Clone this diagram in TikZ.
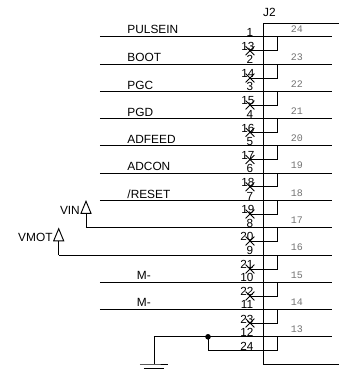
\documentclass[tikz,border=0pt]{standalone}
\usepackage{fontspec}
\setmainfont{Liberation Sans}
\newfontfamily\pinfont{Liberation Mono}
\usepackage{tikz}
\usetikzlibrary{positioning,shapes.misc,shapes.geometric,calc}

\begin{document}
\begin{tikzpicture}[x=0.75pt,y=-0.75pt,line width=0.7pt,
        netname/.style={font=\fontsize{8.9}{10}\selectfont,inner sep=0pt},
        pinnum/.style={font=\fontsize{8.8}{10}\selectfont,inner sep=0pt},
        contact/.style={font=\pinfont\fontsize{7.5}{8}\selectfont,text=black!55,inner sep=0pt},
        nc/.style={cross out,draw,minimum size=6pt,inner sep=0pt,line width=0.6pt},
        vcc/.style={isosceles triangle,isosceles triangle apex angle=45,shape border rotate=90,draw,fill=white,inner sep=0pt,minimum height=8.6pt,minimum width=7.5pt,line width=0.7pt}]
    \useasboundingbox (0,0) rectangle (339,369);
    % connector body
    \coordinate (top) at (339,23);
    \coordinate (bot) at (339,364);
    \draw (top) -- (263,23) -- (263,364) -- (bot);
    \node[netname] (j2) at (269.5,12) {J2};
    % rows
    \coordinate (l1) at (100,36.7);   \coordinate (r1) at (332,36.7);
    \coordinate (l2) at (100,64);     \coordinate (r2) at (332,64);
    \coordinate (l3) at (100,91.3);   \coordinate (r3) at (332,91.3);
    \coordinate (l4) at (100,118.5);  \coordinate (r4) at (332,118.5);
    \coordinate (l5) at (100,145.7);  \coordinate (r5) at (332,145.7);
    \coordinate (l6) at (100,173);    \coordinate (r6) at (332,173);
    \coordinate (l7) at (100,200.5);  \coordinate (r7) at (332,200.5);
    \coordinate (l8) at (86,227.7);   \coordinate (r8) at (332,227.7);
    \coordinate (l9) at (58.7,255);   \coordinate (r9) at (332,255);
    \coordinate (l10) at (100,282);   \coordinate (r10) at (332,282);
    \coordinate (l11) at (100,309.3); \coordinate (r11) at (332,309.3);
    \coordinate (l12) at (154,336.8); \coordinate (r12) at (332,336.8);
    \draw (l1) -- (r1);
    \draw (l2) -- (r2);
    \draw (l3) -- (r3);
    \draw (l4) -- (r4);
    \draw (l5) -- (r5);
    \draw (l6) -- (r6);
    \draw (l7) -- (r7);
    \draw (l8) -- (r8);
    \draw (l9) -- (r9);
    \draw (l10) -- (r10);
    \draw (l11) -- (r11);
    \draw (l12) -- (r12);
    % net names
    \node[netname,anchor=west] (pulsein) at (127,29.5) {PULSEIN};
    \node[netname,anchor=west] (boot) at (127,57.5) {BOOT};
    \node[netname,anchor=west] (pgc) at (127,85) {PGC};
    \node[netname,anchor=west] (pgd) at (127,112) {PGD};
    \node[netname,anchor=west] (adfeed) at (127,139.5) {ADFEED};
    \node[netname,anchor=west] (adcon) at (127,166.5) {ADCON};
    \node[netname,anchor=west] (reset) at (127,194) {/RESET};
    \node[netname,anchor=west] (m1) at (136.5,275.5) {M-};
    \node[netname,anchor=west] (m2) at (136.5,302.5) {M-};
    % power flags
    \node[vcc,anchor=apex] (vin) at (86,200) {};
    \node[vcc,anchor=apex] (vmot) at (58.7,227.5) {};
    \node[netname,left=1.2pt of vin] (vinname) {VIN};
    \node[netname,left=1.2pt of vmot] (vmotname) {VMOT};
    \draw (vin.south) -- (l8);
    \draw (vmot.south) -- (l9);
    % pin numbers on the wires
    \node[pinnum] (n1) at (250,32.5) {1};
    \node[pinnum] (n2) at (250,59.5) {2};
    \node[pinnum] (n3) at (250,86.8) {3};
    \node[pinnum] (n4) at (250,114) {4};
    \node[pinnum] (n5) at (250,141.2) {5};
    \node[pinnum] (n6) at (250,168.5) {6};
    \node[pinnum] (n7) at (250,196) {7};
    \node[pinnum] (n8) at (250,223.2) {8};
    \node[pinnum] (n9) at (250,250.5) {9};
    \node[pinnum] (n10) at (247,277.5) {10};
    \node[pinnum] (n11) at (247,304.8) {11};
    \node[pinnum] (n12) at (247,332.3) {12};
    % open pins
    \node[pinnum] (n13) at (248,46) {13};
    \node[pinnum] (n14) at (248,73.5) {14};
    \node[pinnum] (n15) at (248,100.5) {15};
    \node[pinnum] (n16) at (248,128) {16};
    \node[pinnum] (n17) at (248,155) {17};
    \node[pinnum] (n18) at (248,182.5) {18};
    \node[pinnum] (n19) at (248,209.8) {19};
    \node[pinnum] (n20) at (247,236.5) {20};
    \node[pinnum] (n21) at (247,264.5) {21};
    \node[pinnum] (n22) at (247,291.5) {22};
    \node[pinnum] (n23) at (247,319) {23};
    \node[pinnum] (n24) at (247,346) {24};
    \node[nc] (x13) at (250,50.7) {};
    \node[nc] (x14) at (250,78) {};
    \node[nc] (x15) at (250,105) {};
    \node[nc] (x16) at (250,132.3) {};
    \node[nc] (x17) at (250,159.5) {};
    \node[nc] (x18) at (250,186.8) {};
    \node[nc] (x19) at (250,214) {};
    \node[nc] (x20) at (250,241) {};
    \node[nc] (x21) at (250,269) {};
    \node[nc] (x22) at (250,296) {};
    \node[nc] (x23) at (250,323) {};
    % links between the two rows of a contact
    \draw (x13.center) -- (277,50.7) -- (277,36.7);
    \draw (x14.center) -- (277,78) -- (277,64);
    \draw (x15.center) -- (277,105) -- (277,91.3);
    \draw (x16.center) -- (277,132.3) -- (277,118.5);
    \draw (x17.center) -- (277,159.5) -- (277,145.7);
    \draw (x18.center) -- (277,186.8) -- (277,173);
    \draw (x19.center) -- (277,214) -- (277,200.5);
    \draw (x20.center) -- (277,241) -- (277,227.7);
    \draw (x21.center) -- (277,269) -- (277,255);
    \draw (x22.center) -- (277,296) -- (277,282);
    \draw (x23.center) -- (277,323) -- (277,309.3);
    % contact numbers
    \node[contact] (c24) at (297,29.3) {24};
    \node[contact] (c23) at (297,56.7) {23};
    \node[contact] (c22) at (297,84) {22};
    \node[contact] (c21) at (297,111.3) {21};
    \node[contact] (c20) at (297,138.3) {20};
    \node[contact] (c19) at (297,165.5) {19};
    \node[contact] (c18) at (297,193) {18};
    \node[contact] (c17) at (297,220.3) {17};
    \node[contact] (c16) at (297,247.5) {16};
    \node[contact] (c15) at (297,275.3) {15};
    \node[contact] (c14) at (297,302.3) {14};
    \node[contact] (c13) at (297,329.3) {13};
    % ground
    \node[circle,fill,inner sep=0pt,minimum size=4.2pt] (dot) at (208,336.8) {};
    \coordinate (last) at (277,336.8);
    \draw (dot.center) -- (208,350) -- (277,350) -- (last);
    \coordinate (gnd) at (154,364);
    \draw (l12) -- (gnd);
    \draw (140,364) -- (gnd) -- (168,364);
    \draw (144,368) -- (164,368);
\end{tikzpicture}
\end{document}
